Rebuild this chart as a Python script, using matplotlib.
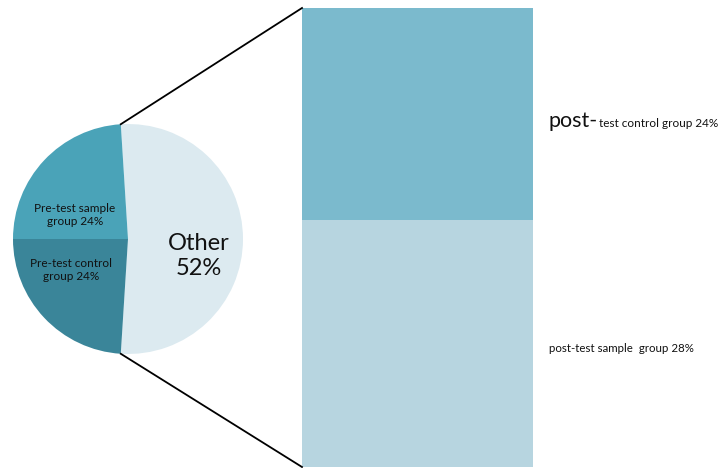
import numpy as np
import matplotlib.pyplot as plt

plt.rcParams['font.family'] = ['Lato', 'DejaVu Sans']

# pie: pre-test groups and the rest
pie_labels = ['Other\n52%', 'Pre-test sample\ngroup 24%', 'Pre-test control\ngroup 24%']
pie_values = [52, 24, 24]
pie_colors = ['#dceaf0', '#4aa3b8', '#3a8599']

# bar: breakdown of "Other"
bar_values = [28, 24]  # bottom to top
bar_colors = ['#b7d5e0', '#7bbacd']

fig = plt.figure(figsize=(7.28, 4.68), dpi=100)
ax = fig.add_axes([0, 0, 1, 1])
ax.set_xlim(0, 728)
ax.set_ylim(0, 468)
ax.set_aspect('equal')
ax.axis('off')

center = (128, 229)
radius = 115
start = -pie_values[0] / 100 * 360 / 2
wedges, _ = ax.pie(pie_values, colors=pie_colors, startangle=start,
                   center=center, radius=radius, counterclock=True,
                   wedgeprops=dict(linewidth=0))
ax.set_xlim(0, 728)
ax.set_ylim(0, 468)

# stacked bar for the "Other" part
bar_left, bar_width, bar_bottom = 302, 231, 1
scale = 459 / sum(bar_values)
bottom = bar_bottom
for v, c in zip(bar_values, bar_colors):
    ax.bar(bar_left, v * scale, width=bar_width, bottom=bottom, color=c,
           align='edge', linewidth=0)
    bottom += v * scale

# connecting lines from the "Other" wedge edges to the bar corners
t1, t2 = np.deg2rad(wedges[0].theta1), np.deg2rad(wedges[0].theta2)
top_pt = (center[0] + radius * np.cos(t2), center[1] + radius * np.sin(t2))
bot_pt = (center[0] + radius * np.cos(t1), center[1] + radius * np.sin(t1))
ax.plot([top_pt[0], bar_left], [top_pt[1], bottom], color='black', lw=1.3)
ax.plot([bot_pt[0], bar_left], [bot_pt[1], bar_bottom], color='black', lw=1.3)

# pie labels
ax.text(199, 212, pie_labels[0], ha='center', va='center', fontsize=17,
        linespacing=1.2, color='#111111')
ax.text(75, 253, pie_labels[1], ha='center', va='center', fontsize=8.5,
        linespacing=1.25, color='#111111')
ax.text(71, 198, pie_labels[2], ha='center', va='center', fontsize=8.5,
        linespacing=1.25, color='#111111')

# bar labels
big = ax.text(549, 341, 'post-', ha='left', va='baseline', fontsize=15.5,
              color='#111111')
fig.canvas.draw()
ext = big.get_window_extent().transformed(ax.transData.inverted())
ax.text(ext.x1 + 1, 341, 'test control group 24%', ha='left', va='baseline',
        fontsize=8.5, color='#111111')
ax.text(549, 120, 'post-test sample  group 28%', ha='left', va='center',
        fontsize=8.3, color='#111111')

fig.savefig('out.png', dpi=100)
